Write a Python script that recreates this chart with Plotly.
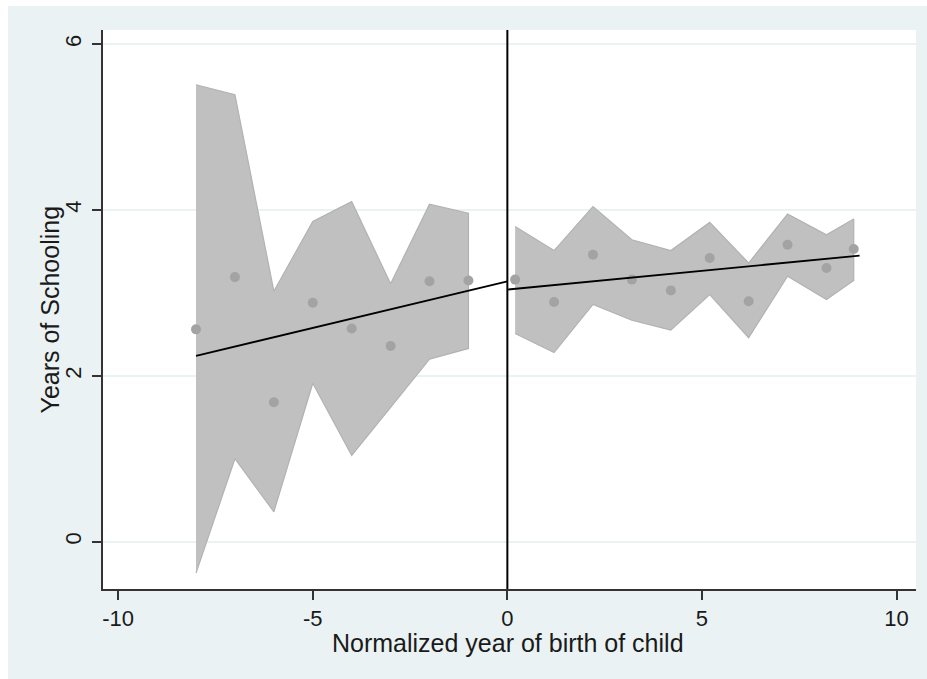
import plotly.graph_objects as go

# Binned means of years of schooling by normalized year of birth
x_pre = [-8, -7, -6, -5, -4, -3, -2, -1]
y_pre = [2.56, 3.19, 1.68, 2.88, 2.57, 2.36, 3.14, 3.15]
hi_pre = [5.51, 5.39, 3.02, 3.86, 4.10, 3.11, 4.07, 3.96]
lo_pre = [-0.38, 1.00, 0.36, 1.91, 1.04, 1.62, 2.20, 2.33]

x_post = [0.2, 1.2, 2.2, 3.2, 4.2, 5.2, 6.2, 7.2, 8.2, 8.9]
y_post = [3.16, 2.89, 3.46, 3.16, 3.03, 3.42, 2.90, 3.58, 3.30, 3.53]
hi_post = [3.80, 3.51, 4.04, 3.64, 3.51, 3.85, 3.36, 3.95, 3.70, 3.89]
lo_post = [2.51, 2.28, 2.86, 2.67, 2.55, 2.98, 2.46, 3.20, 2.92, 3.15]

# Linear fits on each side of the cutoff
fit_pre_x = [-8, 0]
fit_pre_y = [2.24, 3.14]
fit_post_x = [0, 9.05]
fit_post_y = [3.04, 3.45]

cutoff = 0
x_ticks = [-10, -5, 0, 5, 10]
y_ticks = [0, 2, 4, 6]

W, H = 927, 679
ML, MR, MT, MB = 103, 11, 30, 90
BG = "#eaf2f3"
FONT = "Liberation Sans, Arial, sans-serif"

fig = go.Figure()

band_style = dict(mode="lines", fill="toself", fillcolor="#c0c0c0",
                  line=dict(color="#b2b2b2", width=1.2), hoverinfo="skip",
                  showlegend=False)
for xs, hi, lo in [(x_pre, hi_pre, lo_pre), (x_post, hi_post, lo_post)]:
    fig.add_trace(go.Scatter(x=xs + xs[::-1], y=hi + lo[::-1], **band_style))

for xs, ys in [(x_pre, y_pre), (x_post, y_post)]:
    fig.add_trace(go.Scatter(x=xs, y=ys, mode="markers",
                             marker=dict(color="#a3a3a3", size=10),
                             showlegend=False))

for xs, ys in [(fit_pre_x, fit_pre_y), (fit_post_x, fit_post_y)]:
    fig.add_trace(go.Scatter(x=xs, y=ys, mode="lines",
                             line=dict(color="black", width=1.8),
                             showlegend=False))

pw = W - ML - MR
ph = H - MT - MB

shapes = [
    # tinted page area (thin white strip on the left and top)
    dict(type="rect", xref="paper", yref="paper", layer="below",
         x0=(8 - ML) / pw, x1=(W - ML) / pw,
         y0=-MB / ph, y1=(ph + MT - 6) / ph,
         fillcolor=BG, line=dict(width=0)),
    # white plot region
    dict(type="rect", xref="paper", yref="paper", layer="below",
         x0=0, x1=1, y0=0, y1=1, fillcolor="white", line=dict(width=0)),
    # cutoff line
    dict(type="line", xref="x", yref="paper", x0=cutoff, x1=cutoff,
         y0=0, y1=1, line=dict(color="black", width=2)),
]

axis_common = dict(zeroline=False, showline=True, linecolor="#333333",
                   linewidth=1.5, ticks="outside", ticklen=9, tickwidth=1.5,
                   tickcolor="#333333", tickfont=dict(size=22))

fig.update_layout(
    width=W, height=H,
    margin=dict(l=ML, r=MR, t=MT, b=MB),
    paper_bgcolor="white",
    plot_bgcolor="rgba(0,0,0,0)",
    font=dict(family=FONT, size=22, color="#1a1a1a"),
    shapes=shapes,
    xaxis=dict(range=[-10.39, 10.5], tickvals=x_ticks,
               ticktext=[str(v) for v in x_ticks], showgrid=False,
               ticklabelstandoff=0, **axis_common),
    yaxis=dict(range=[-0.571, 6.17], tickvals=y_ticks,
               ticktext=[str(v) for v in y_ticks], showgrid=True,
               gridcolor=BG, gridwidth=1.5, tickangle=-90,
               ticklabelstandoff=2, **axis_common),
    annotations=[
        dict(text="Normalized year of birth of child", xref="paper",
             yref="paper", x=(508 - ML) / pw, y=-(643 - MT - ph) / ph,
             xanchor="center", yanchor="middle", showarrow=False,
             font=dict(size=25)),
        dict(text="Years of Schooling", xref="paper", yref="paper",
             x=(49 - ML) / pw, y=0.5, textangle=-90, xanchor="center",
             yanchor="middle", showarrow=False, font=dict(size=25)),
    ],
)

fig.write_html("out.html")
